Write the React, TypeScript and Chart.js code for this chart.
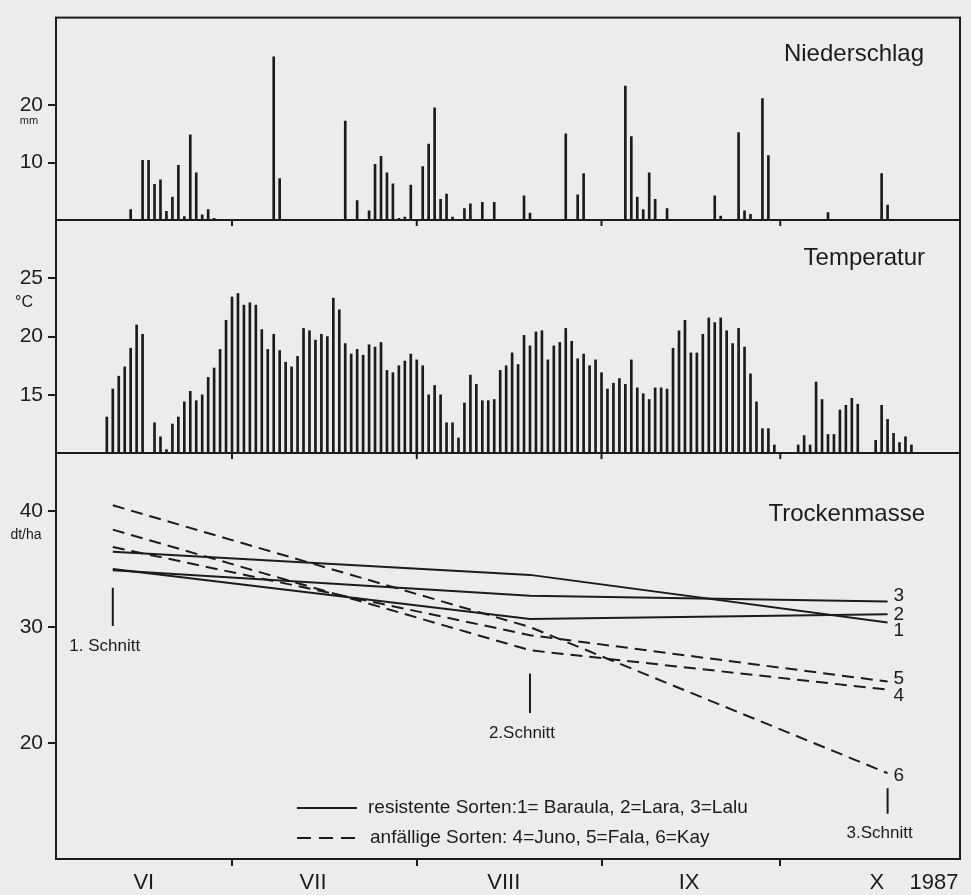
import React, { useEffect, useRef } from 'react';
import { Chart, registerables } from 'chart.js';

Chart.register(...registerables);

// ---- data (day index: 0 = 1 June 1987) ----
const precipDays = [13, 15, 16, 17, 18, 19, 20, 21, 22, 23, 24, 25, 26, 27, 37, 38, 49, 51, 53, 54, 55, 56, 57, 58, 59, 60, 62, 63, 64, 65, 66, 67, 69, 70, 72, 74, 79, 80, 86, 88, 89, 96, 97, 98, 99, 100, 101, 103, 111, 112, 115, 116, 117, 119, 120, 130, 139, 140];
const precipMm = [1.8, 10.4, 10.4, 6.2, 7.0, 1.5, 4.0, 9.5, 0.6, 14.8, 8.2, 0.9, 1.8, 0.3, 28.4, 7.2, 17.2, 3.4, 1.6, 9.7, 11.1, 8.2, 6.3, 0.3, 0.5, 6.1, 9.3, 13.2, 19.5, 3.6, 4.5, 0.5, 2.0, 2.8, 3.1, 3.1, 4.2, 1.2, 15.0, 4.4, 8.1, 23.3, 14.5, 4.0, 1.8, 8.2, 3.6, 2.0, 4.2, 0.7, 15.2, 1.6, 1.0, 21.1, 11.2, 1.3, 8.1, 2.6];

const tempFirstDay = 9;
const tempC = [
  13.1, 15.5, 16.6, 17.4, 19.0, 21.0, 20.2, 10.0, 12.6, 11.4, 10.3, 12.5,
  13.1, 14.4, 15.3, 14.5, 15.0, 16.5, 17.3, 18.9, 21.4, 23.4,
  23.7, 22.7, 22.9, 22.7, 20.6, 18.9, 20.2, 18.8, 17.8, 17.4,
  18.3, 20.7, 20.5, 19.7, 20.2, 20.0, 23.3, 22.3, 19.4, 18.5,
  18.9, 18.4, 19.3, 19.1, 19.5, 17.1, 16.9, 17.5, 17.9, 18.5,
  18.0, 17.5, 15.0, 15.8, 15.0, 12.6, 12.6, 11.3, 14.3, 16.7,
  15.9, 14.5, 14.5, 14.6, 17.1, 17.5, 18.6, 17.6, 20.1, 19.2,
  20.4, 20.5, 18.0, 19.2, 19.5, 20.7, 19.6, 18.1, 18.5, 17.5,
  18.0, 16.9, 15.5, 16.0, 16.4, 15.9, 18.0, 15.6, 15.1, 14.6,
  15.6, 15.6, 15.5, 19.0, 20.5, 21.4, 18.6, 18.6, 20.2, 21.6,
  21.2, 21.6, 20.5, 19.4, 20.7, 19.1, 16.8, 14.4, 12.1, 12.1,
  10.7, 9.1, 8.5, 9.2, 10.7, 11.5, 10.7, 16.1, 14.6, 11.6,
  11.6, 13.7, 14.1, 14.7, 14.2, 9.6, 7.8, 11.1, 14.1, 12.9,
  11.7, 10.9, 11.4, 10.7, 9.5, 8.6, 9.2,
];

const cutDays = [10, 80, 140];
const cutLabels = ['1. Schnitt', '2.Schnitt', '3.Schnitt'];
const cutMarkTop = [33.4, 26.0, 16.1];
const cutMarkBottom = [30.1, 22.6, 13.9];

const seriesNames = ['1', '2', '3', '4', '5', '6'];
const dmBaraula = [36.5, 34.5, 30.4];
const dmLara = [35.0, 30.7, 31.1];
const dmLalu = [34.9, 32.7, 32.2];
const dmJuno = [38.4, 28.0, 24.6];
const dmFala = [36.9, 29.3, 25.3];
const dmKay = [40.5, 30.0, 17.4];
const dmSeries = [dmBaraula, dmLara, dmLalu, dmJuno, dmFala, dmKay];
const dmDashed = [false, false, false, true, true, true];

const monthTickDays = [30, 61, 92, 122];
const monthLabelDays = [15.2, 43.6, 75.6, 106.7, 138.2, 147.8];
const monthLabels = ['VI', 'VII', 'VIII', 'IX', 'X', '1987'];

const precipTicks = [10, 20];
const tempTicks = [15, 20, 25];
const dmTicks = [20, 30, 40];

const legendSolid = 'resistente Sorten:1= Baraula, 2=Lara, 3=Lalu';
const legendDashed = 'anfällige Sorten: 4=Juno, 5=Fala, 6=Kay';

// ---- styles ----
const INK = '#1b1b1b';
const PAPER = '#ececea';
const FONT = "'Liberation Sans', Arial, Helvetica, sans-serif";
const X_MIN = 0.47;
const X_MAX = 152.15;
const endLabelOffsets = [8, 0, -6, 6, -3, 3];

const decorPlugin = {
  id: 'decor',
  beforeDraw(chart: any) {
    const { ctx, width, height } = chart;
    ctx.save();
    ctx.fillStyle = PAPER;
    ctx.fillRect(0, 0, width, height);
    ctx.restore();
  },
  afterDatasetsDraw(chart: any) {
    const { ctx, chartArea: a, scales } = chart;
    const x = scales.x, yP = scales.yP, yT = scales.yT, yD = scales.yD;
    const line = (x1: number, y1: number, x2: number, y2: number) => {
      ctx.beginPath(); ctx.moveTo(x1, y1); ctx.lineTo(x2, y2); ctx.stroke();
    };
    ctx.save();
    ctx.strokeStyle = INK;
    ctx.fillStyle = INK;
    ctx.lineWidth = 2;
    ctx.setLineDash([]);
    ctx.strokeRect(a.left, a.top, a.right - a.left, a.bottom - a.top);
    [yP.bottom, yT.bottom].forEach((yy: number) => line(a.left, yy, a.right, yy));
    monthTickDays.forEach((d) => {
      const px = x.getPixelForValue(d);
      [yP.bottom, yT.bottom].forEach((yy: number) => line(px, yy, px, yy + 6));
    });

    // panel titles
    ctx.font = `24px ${FONT}`;
    ctx.textAlign = 'right';
    ctx.textBaseline = 'alphabetic';
    ctx.fillText('Niederschlag', a.right - 36, yP.top + 43);
    ctx.fillText('Temperatur', a.right - 35, yT.top + 45);
    ctx.fillText('Trockenmasse', a.right - 35, yD.top + 68);

    // units
    ctx.textAlign = 'center';
    ctx.textBaseline = 'middle';
    ctx.font = `11px ${FONT}`;
    ctx.fillText('mm', 29, yP.getPixelForValue(20) + 16);
    ctx.font = `16px ${FONT}`;
    ctx.fillText('°C', 24, yT.getPixelForValue(25) + 24);
    ctx.font = `14px ${FONT}`;
    ctx.fillText('dt/ha', 26, yD.getPixelForValue(40) + 24);

    // cut labels
    ctx.font = `17px ${FONT}`;
    cutDays.forEach((d, i) => {
      const px = x.getPixelForValue(d);
      const py = yD.getPixelForValue(cutMarkBottom[i]);
      ctx.fillText(cutLabels[i], px - 8, py + 20);
    });

    // series end labels
    ctx.font = `19px ${FONT}`;
    ctx.textAlign = 'left';
    seriesNames.forEach((name, i) => {
      const meta = chart.getDatasetMeta(2 + i);
      const last = meta.data[meta.data.length - 1];
      ctx.fillText(name, last.x + 6, last.y + endLabelOffsets[i]);
    });

    // legend
    const lx = a.left + 241;
    const ly1 = 808, ly2 = 838;
    ctx.lineWidth = 2;
    line(lx, ly1, lx + 60, ly1);
    ctx.setLineDash([14, 8]);
    line(lx, ly2, lx + 60, ly2);
    ctx.setLineDash([]);
    ctx.font = `19px ${FONT}`;
    ctx.fillText(legendSolid, lx + 71, ly1);
    ctx.fillText(legendDashed, lx + 73, ly2);
    ctx.restore();
  },
};

function yAxis(stackWeight: number, min: number, max: number, ticks: number[]) {
  return {
    type: 'linear',
    position: 'left',
    stack: 'panels',
    stackWeight,
    min,
    max,
    offset: false,
    afterBuildTicks: (s: any) => { s.ticks = ticks.map((v) => ({ value: v })); },
    afterFit: (s: any) => { s.width = 56; },
    ticks: { font: { family: FONT, size: 21 }, color: INK, padding: 5, callback: (v: any) => String(v) },
    grid: { drawOnChartArea: false, drawTicks: true, tickLength: 8, color: INK, lineWidth: 2, offset: false },
    border: { display: false },
  };
}

export default function App() {
  const ref = useRef<HTMLCanvasElement>(null);
  useEffect(() => {
    const datasets: any[] = [
      {
        type: 'bar',
        data: precipDays.map((d, i) => ({ x: d, y: precipMm[i] })),
        xAxisID: 'x', yAxisID: 'yP',
        backgroundColor: INK, borderWidth: 0, barThickness: 2, grouped: false,
      },
      {
        type: 'bar',
        data: tempC.map((v, i) => ({ x: tempFirstDay + i, y: v })),
        xAxisID: 'x', yAxisID: 'yT', base: 10,
        backgroundColor: INK, borderWidth: 0, barThickness: 2, grouped: false,
      },
      ...dmSeries.map((vals, s) => ({
        type: 'line',
        data: cutDays.map((d, i) => ({ x: d, y: vals[i] })),
        xAxisID: 'x', yAxisID: 'yD',
        borderColor: INK, borderWidth: 2, borderDash: dmDashed[s] ? [12, 7] : [],
        pointRadius: 0, fill: false, tension: 0,
      })),
      ...cutDays.map((d, i) => ({
        type: 'line',
        data: [{ x: d, y: cutMarkTop[i] }, { x: d, y: cutMarkBottom[i] }],
        xAxisID: 'x', yAxisID: 'yD',
        borderColor: INK, borderWidth: 2, pointRadius: 0, fill: false,
      })),
    ];
    const chart = new Chart(ref.current as HTMLCanvasElement, {
      type: 'bar',
      data: { datasets },
      plugins: [decorPlugin],
      options: {
        animation: false,
        responsive: false,
        maintainAspectRatio: false,
        layout: { padding: { top: 7, right: 11, left: 0, bottom: 0 } },
        plugins: { legend: { display: false }, tooltip: { enabled: false } },
        scales: {
          x: {
            type: 'linear', position: 'bottom', min: X_MIN, max: X_MAX, offset: false,
            afterBuildTicks: (s: any) => { s.ticks = monthTickDays.map((v) => ({ value: v })); },
            afterFit: (s: any) => { s.height = 8; },
            ticks: { display: false },
            grid: { drawOnChartArea: false, drawTicks: true, tickLength: 7, color: INK, lineWidth: 2, offset: false },
            border: { display: false },
          },
          xm: {
            type: 'linear', position: 'bottom', min: X_MIN, max: X_MAX, offset: false,
            afterBuildTicks: (s: any) => { s.ticks = monthLabelDays.map((v) => ({ value: v })); },
            afterFit: (s: any) => { s.height = 28; },
            ticks: {
              autoSkip: false, maxRotation: 0, padding: 3,
              font: { family: FONT, size: 22 }, color: INK,
              callback: (_v: any, i: number) => monthLabels[i],
            },
            grid: { display: false, drawTicks: false, offset: false },
            border: { display: false },
          },
          yD: yAxis(411, 10, 45, dmTicks),
          yT: yAxis(236, 10, 30, tempTicks),
          yP: yAxis(205, 0, 35.2, precipTicks),
        } as any,
      },
    } as any);
    return () => chart.destroy();
  }, []);
  return (
    <div style={{ position: 'absolute', left: 0, top: 0, width: 971, height: 895, background: PAPER }}>
      <canvas ref={ref} width={971} height={895} style={{ display: 'block', width: 971, height: 895 }} />
    </div>
  );
}
